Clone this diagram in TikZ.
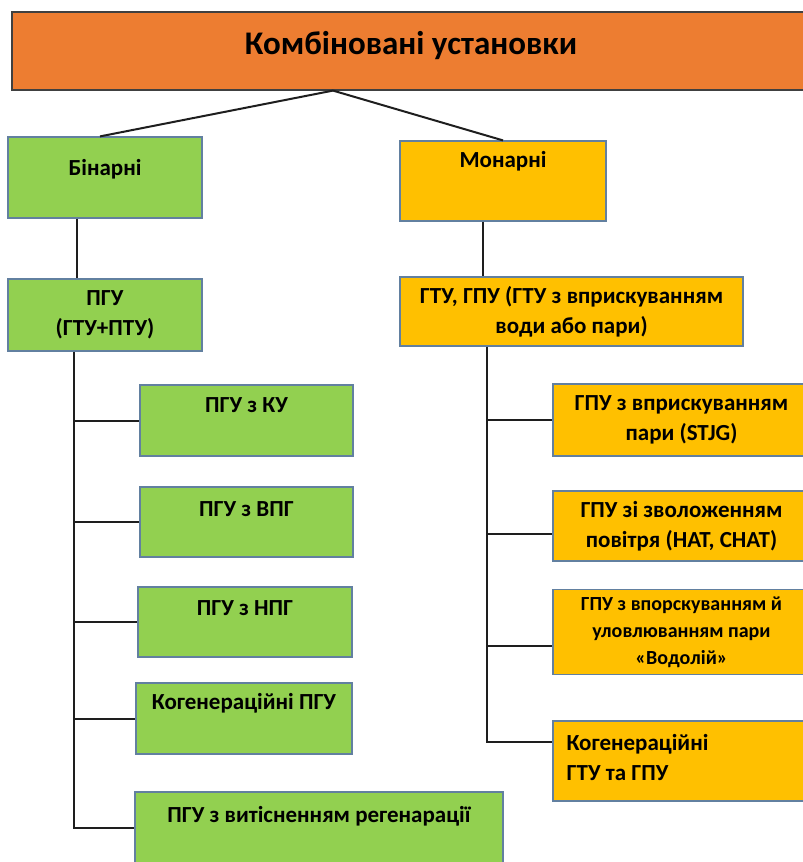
\documentclass[tikz,border=0pt]{standalone}
\usepackage{fontspec}
\setmainfont{Carlito}
\usepackage{tikz}
\usetikzlibrary{positioning,calc}
\definecolor{kuedge}{RGB}{98,128,160}
\definecolor{kuhead}{RGB}{237,125,49}
\definecolor{kubin}{RGB}{146,208,80}
\definecolor{kumon}{RGB}{255,192,0}
\definecolor{kuline}{RGB}{30,30,30}
\tikzset{
  kbox/.style={
    draw=kuedge, line width=1.2pt, align=center, inner sep=0pt,
    font=\fontsize{23}{30}\selectfont\bfseries
  },
  head/.style={kbox, fill=kuhead, draw=black!75},
  bin/.style={kbox, fill=kubin},
  mon/.style={kbox, fill=kumon},
  txt/.style={align=center, inner sep=0pt, font=\fontsize{23}{30}\selectfont\bfseries},
  link/.style={draw=kuline, line width=2pt}
}
\begin{document}
\begin{tikzpicture}[x=1pt, y=-1pt]
  \useasboundingbox (0,0) rectangle (803,862);
  \begin{scope}
  \clip (0,0) rectangle (803,862);
  % top level
  \node[head, minimum width=798pt, minimum height=78pt] (top) at (411,51) {};
  \node[txt, font=\fontsize{33}{38}\selectfont\bfseries] (top-t) at ([yshift=5pt]top.center)
    {Комбіновані установки};
  \coordinate (hub) at ([xshift=-78pt]top.south);

  % binary branch
  \node[bin, minimum width=194pt, minimum height=81pt] (bin) at (105,177.5) {};
  \node[txt] (bin-t) at ([yshift=-33pt]bin.north) {Бінарні};
  \node[bin, minimum width=194pt, minimum height=72pt] (pgu) at (105,315)
    {ПГУ\\(ГТУ+ПТУ)};
  \node[bin, minimum width=213pt, minimum height=71pt] (ku) at (246.5,420.5) {};
  \node[txt] (ku-t) at ([yshift=-21pt]ku.north) {ПГУ з КУ};
  \node[bin, minimum width=213pt, minimum height=70pt] (vpg) at (246.5,522) {};
  \node[txt] (vpg-t) at ([yshift=-23pt]vpg.north) {ПГУ з ВПГ};
  \node[bin, minimum width=214pt, minimum height=70pt] (npg) at (245,622) {};
  \node[txt] (npg-t) at ([yshift=-22pt]npg.north) {ПГУ з НПГ};
  \node[bin, minimum width=216pt, minimum height=71pt] (kog) at (244,718.5) {};
  \node[txt] (kog-t) at ([yshift=-21pt]kog.north) {Когенераційні ПГУ};
  \node[bin, minimum width=368pt, minimum height=72pt] (vyt) at (319,828) {};
  \node[txt] (vyt-t) at ([yshift=-25pt]vyt.north) {ПГУ з витісненням регенарації};

  % monar branch
  \node[mon, minimum width=206pt, minimum height=80pt] (mon) at (503,181) {};
  \node[txt] (mon-t) at ([yshift=-21pt]mon.north) {Монарні};
  \node[mon, minimum width=343pt, minimum height=69pt] (gtu) at (571.5,311.5)
    {ГТУ, ГПУ (ГТУ з вприскуванням\\води або пари)};
  \node[mon, minimum width=257pt, minimum height=72pt] (stjg) at (681.5,420)
    {ГПУ з вприскуванням\\пари (STJG)};
  \node[mon, minimum width=257pt, minimum height=70pt] (hat) at (681.5,526)
    {ГПУ зі зволоженням\\повітря (HAT, CHAT)};
  \node[mon, minimum width=257pt, minimum height=85pt, font=\fontsize{20}{27}\selectfont\bfseries]
    (vod) at (681.5,632) {ГПУ з впорскуванням й\\уловлюванням пари\\«Водолій»};
  \node[mon, minimum width=257pt, minimum height=80pt] (kgtu) at (681.5,761) {};
  \node[txt, align=left, anchor=west] (kgtu-t) at ([xshift=14pt,yshift=3pt]kgtu.west)
    {Когенераційні\\ГТУ та ГПУ};

  % connectors
  \draw[link] (hub) -- ([xshift=-5pt]bin.north);
  \draw[link] (hub) -- (mon.north);
  \draw[link] ([xshift=-28pt]bin.south) -- ([xshift=-28pt]bin.south |- pgu.north);
  \draw[link] ([xshift=-20pt]mon.south) -- ([xshift=-20pt]mon.south |- gtu.north);

  \coordinate (lt) at ([xshift=-31pt]pgu.south);
  \draw[link] (lt) |- (vyt.west);
  \foreach \b in {ku,vpg,npg,kog} \draw[link] (lt |- \b.west) -- (\b.west);

  \coordinate (rt) at ([xshift=-85pt]gtu.south);
  \draw[link] (rt) |- ([yshift=19pt]kgtu.west);
  \foreach \b/\s in {stjg/0,hat/-8,vod/-14}
    \draw[link] ([yshift=\s pt]\b.west -| rt) -- ([yshift=\s pt]\b.west);
  \end{scope}
\end{tikzpicture}
\end{document}
